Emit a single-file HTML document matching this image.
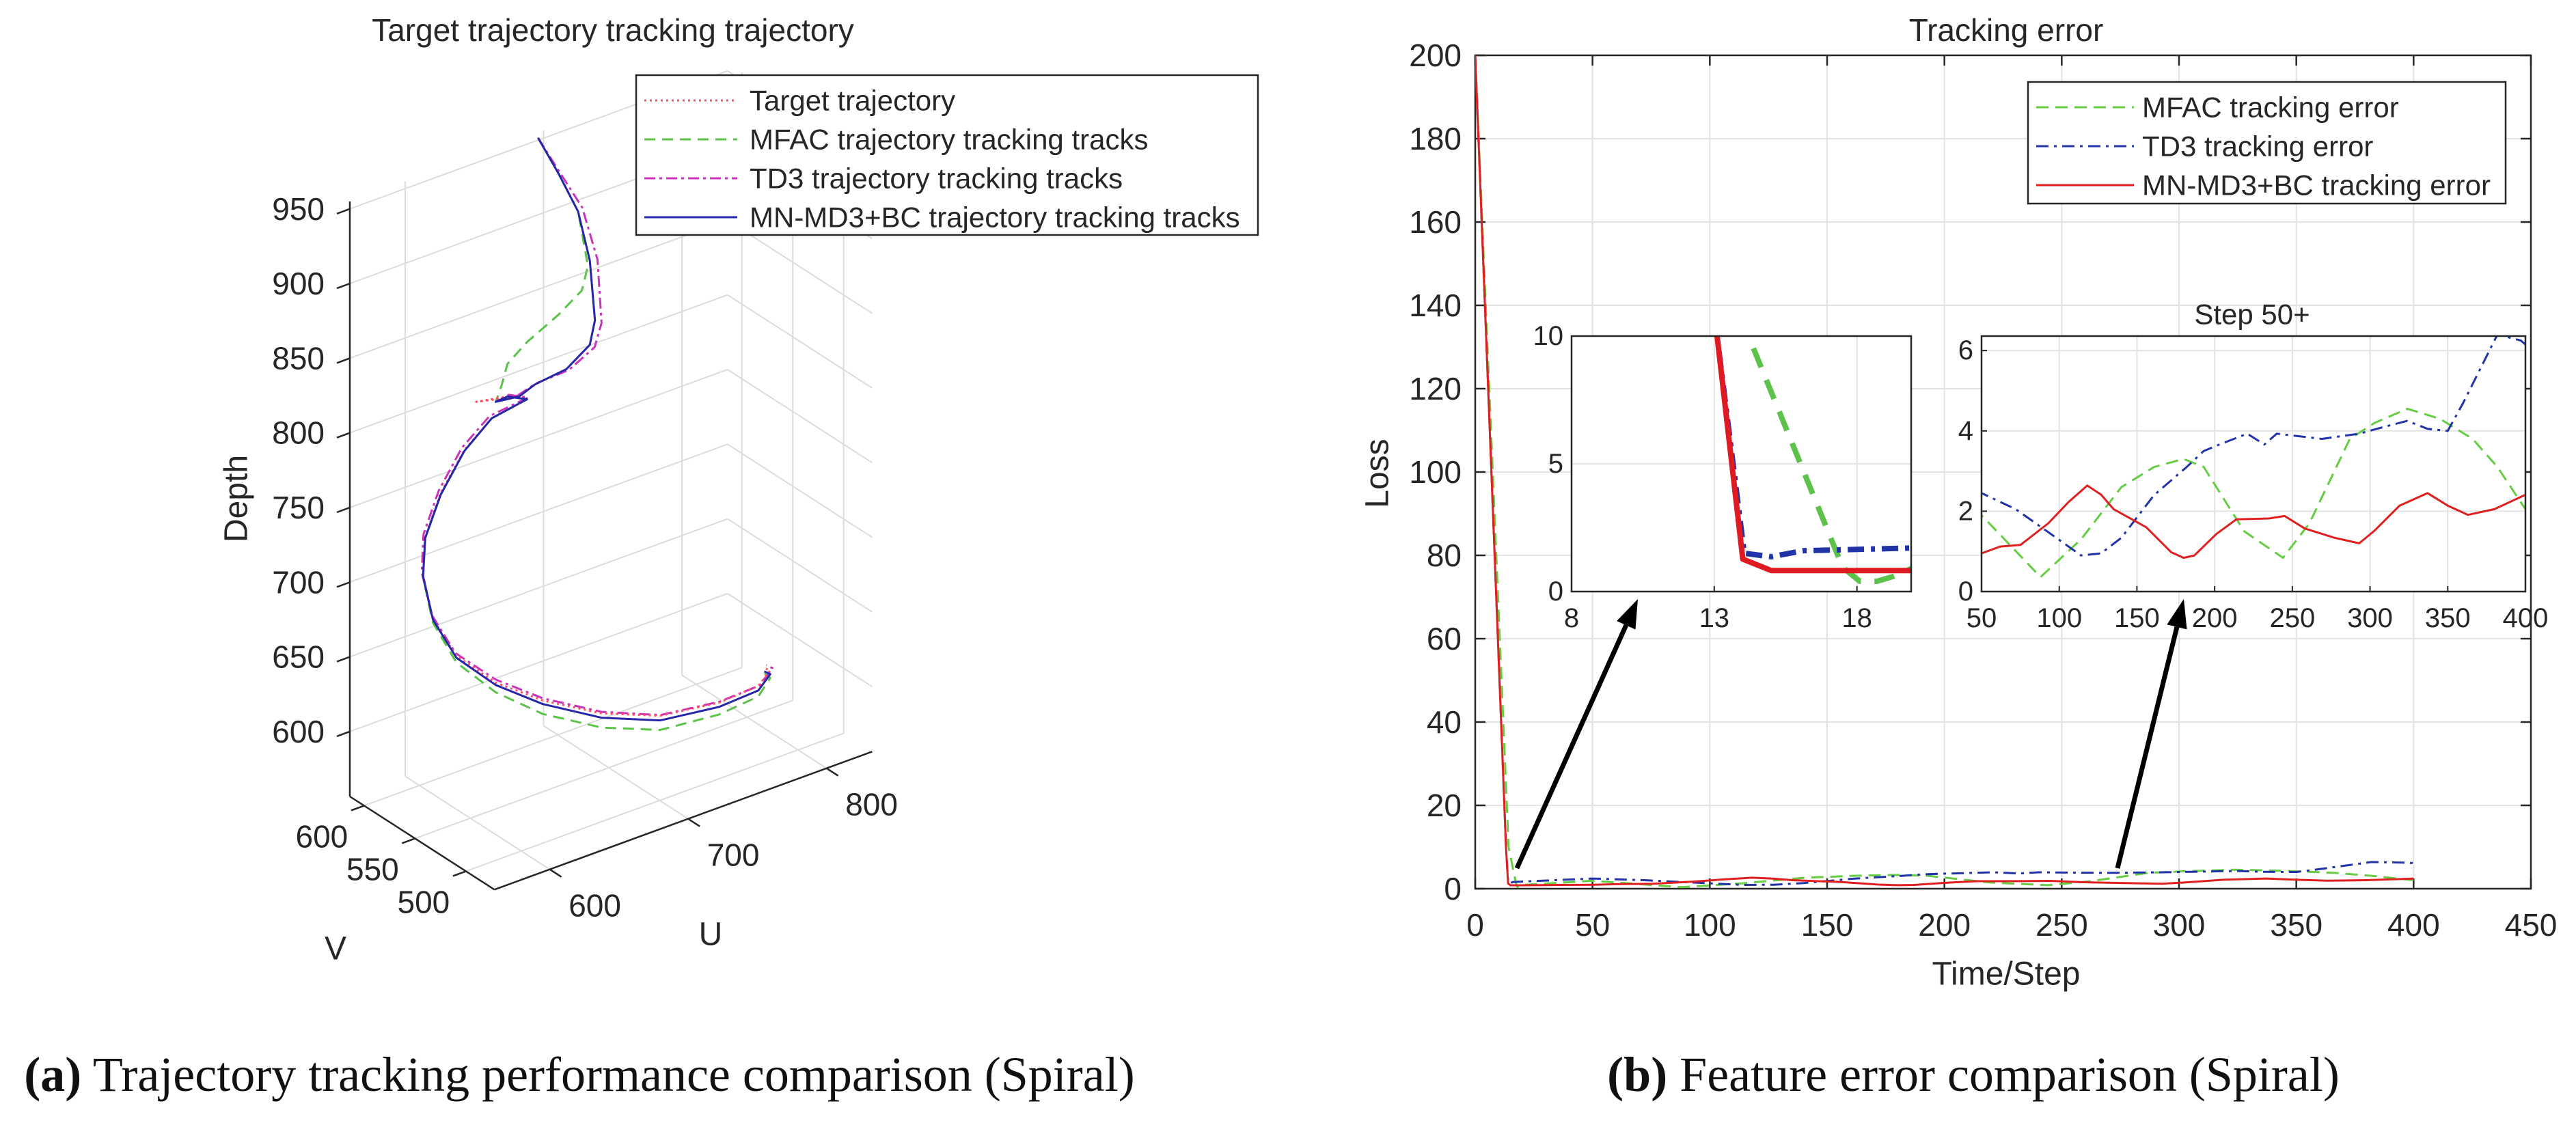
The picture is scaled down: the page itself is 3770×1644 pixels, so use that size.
<!DOCTYPE html>
<html><head><meta charset="utf-8">
<style>
html,body{margin:0;padding:0;background:#fff;}
svg{display:block;}
text{font-family:"Liberation Sans",sans-serif;fill:#262626;}
.cap{font-family:"Liberation Serif",serif;fill:#111;}
</style></head>
<body>
<svg id="fig" width="3770" height="1644" viewBox="0 0 3770 1644" xmlns="http://www.w3.org/2000/svg">
<defs>
<clipPath id="clipMain"><rect x="2159" y="81" width="1545" height="1220"/></clipPath>
<clipPath id="clipIn1"><rect x="2300" y="492" width="497" height="374"/></clipPath>
<clipPath id="clipIn2"><rect x="2900" y="492" width="796" height="374"/></clipPath>
</defs>
<g id="left"></g>
<g id="right"></g>
<text class="cap" x="848" y="1597" text-anchor="middle" font-size="72"><tspan font-weight="bold">(a)</tspan> Trajectory tracking performance comparison (Spiral)</text>
<text class="cap" x="2888" y="1597" text-anchor="middle" font-size="72"><tspan font-weight="bold">(b)</tspan> Feature error comparison (Spiral)</text>
</svg>
<script>
// ===== 3D trajectory data (U, V, Depth) =====
const depthTicks=[600,650,700,750,800,850,900,950];
const uTicks=[600,700,800];
const vTicks=[500,550,600];
const blueU=[641.6,656.3,670.5,679.0,682.7,679.0,662.0,639.3,628.0,611.0,619.5,633.6,608.1,588.3,571.3,560.0,558.5,565.6,582.6,611.0,645.0,687.5,730.0,772.5,800.8,809.4,805.1];
const blueD=[1002.4,973.7,943.4,907.7,866.4,851.2,840.6,838.1,833.9,836.0,836.7,830.1,826.0,810.8,787.4,762.1,737.1,705.5,674.2,646.4,622.1,598.6,582.4,577.1,578.5,586.5,589.8];
const blueV=[540,540,540,540,540,540,540,540,540,540,540,540,540,540,540,540,540,540,540,540,540,540,540,540,540,540,540];
const targetU=[641.6,656.3,670.5,679.0,682.7,679.0,662.0,639.3,628.0,596.8,619.5,633.6,608.1,588.3,571.3,560.0,558.5,565.6,582.6,611.0,645.0,687.5,730.0,772.5,800.8,809.4,805.1];
const targetD=[1002.4,973.7,943.4,907.7,866.4,851.2,840.6,838.1,833.9,840.8,836.7,830.1,826.0,811.5,788.5,763.0,737.5,706.0,675.5,648.0,624.5,601.5,585.5,580.0,581.5,589.0,592.0];
const td3U=[641.6,657.0,673.5,684.5,687.5,682.5,664.0,640.0,627.0,612.0,620.5,634.5,606.5,586.5,569.8,558.8,557.5,565.0,582.0,611.0,645.0,687.5,730.0,772.5,801.5,811.0,806.5];
const td3D=[1002.4,974.5,945.0,906.5,863.0,848.5,839.5,838.5,835.0,836.5,837.5,831.0,828.0,813.5,790.5,765.0,740.0,708.5,677.5,650.0,626.0,602.5,586.0,580.5,581.5,590.0,593.5];
const mfacU=[641.6,656.3,670.5,677.6,673.3,656.3,633.6,619.5,615.2,611.0,619.5,633.6,608.1,588.3,571.3,560.0,558.5,565.6,582.6,611.0,645.0,687.5,730.0,772.5,800.8,809.4,805.1];
const mfacD=[1002.4,973.7,943.4,904.6,889.6,879.0,868.4,858.6,845.5,836.0,836.7,830.1,826.0,810.8,787.4,762.1,736.0,703.5,671.0,641.5,615.5,592.0,576.0,572.0,574.5,584.0,588.5];

// ===== Tracking error data =====
const xTicks=[0,50,100,150,200,250,300,350,400,450];
const yTicks=[0,20,40,60,80,100,120,140,160,180,200];
const in1XTicks=[8,13,18];
const in1YTicks=[0,5,10];
const in2XTicks=[50,100,150,200,250,300,350,400];
const in2YTicks=[0,2,4,6];
const redX=[0,13.1,14,15,20,50,62,75,93,106,118,127,135,156,172,180,187,201,214,235,245,258,277,293,303,319,337,350,363,380,400];
const redY=[200,10,1.27,0.82,0.82,0.95,1.12,1.16,1.7,2.23,2.64,2.41,2.05,1.6,0.98,0.84,0.9,1.43,1.8,1.82,1.88,1.57,1.34,1.2,1.52,2.14,2.45,2.14,1.91,2.05,2.41];
const blueX=[0,13.1,14.05,15,16.1,19.8,50,72,98,114,127,140,161,182,193,203,221,232,240,269,293,309,324,337,350,360,382,397,400];
const blueY=[200,10,1.5,1.36,1.6,1.7,2.45,2.05,1.34,0.9,0.95,1.34,2.4,3.1,3.5,3.66,3.93,3.66,3.93,3.8,3.93,4.1,4.25,4.05,4.0,4.7,6.4,6.25,6.15];
const greenX=[0,14.2,17.5,18.1,18.7,19.3,19.9,50,88,114,140,161,180,193,219,244,261,287,303,324,345,366,382,400];
const greenY=[200,10,0.95,0.4,0.4,0.6,0.9,1.9,0.36,1.3,2.6,3.1,3.3,3.1,1.5,0.84,1.7,3.8,4.2,4.55,4.3,3.8,3.1,2.05];

const NS="http://www.w3.org/2000/svg";
function mk(parent,tag,attrs){const e=document.createElementNS(NS,tag);for(const k in attrs)e.setAttribute(k,attrs[k]);parent.appendChild(e);return e;}
function txt(parent,x,y,s,size,anchor){const t=mk(parent,'text',{x:x,y:y,'font-size':size,'text-anchor':anchor||'middle','dominant-baseline':'central'});t.textContent=s;return t;}
function pathD(xs,ys,fx,fy){let d='';for(let i=0;i<xs.length;i++){d+=(i?'L':'M')+fx(xs[i]).toFixed(1)+','+fy(ys[i]).toFixed(1);}return d;}

// ---------- LEFT 3D ----------
const L=document.getElementById('left');
const U0=560,U1=833,V0=472,V1=614,D0=556.5,D1=955;
function P(u,v,d){return [512+(u-U0)*2.025+(V1-v)*1.49, 1166-(u-U0)*0.74+(V1-v)*0.96-(d-D0)*2.186];}
function seg(g,a,b,attrs){const e=mk(g,'line',Object.assign({x1:a[0].toFixed(1),y1:a[1].toFixed(1),x2:b[0].toFixed(1),y2:b[1].toFixed(1)},attrs));return e;}
const grid3=mk(L,'g',{stroke:'#dcdcdc','stroke-width':2});


for(const u of uTicks){seg(grid3,P(u,V1,D0),P(u,V0,D0));seg(grid3,P(u,V1,D0),P(u,V1,D1));}
for(const v of vTicks){seg(grid3,P(U0,v,D0),P(U1,v,D0));seg(grid3,P(U1,v,D0),P(U1,v,D1));}
for(const d of depthTicks){seg(grid3,P(U0,V1,d),P(U1,V1,d));seg(grid3,P(U1,V1,d),P(U1,V0,d));}
const ax3=mk(L,'g',{stroke:'#262626','stroke-width':2.5});


seg(ax3,P(U0,V1,D0),P(U0,V1,D1));
seg(ax3,P(U0,V1,D0),P(U0,V0,D0));
seg(ax3,P(U0,V0,D0),P(U1,V0,D0));
for(const d of depthTicks){const p=P(U0,V1,d);seg(ax3,p,[p[0]-19,p[1]+7]);
  const t=txt(L,475,p[1],String(d),46,'end');
  
  }
for(const v of vTicks){const p=P(U0,v,D0);seg(ax3,p,[p[0]-19,p[1]+7]);
  const t=txt(L,p[0]-62,p[1]+45,String(v),46,'middle');
  
  }
for(const u of uTicks){const p=P(u,V0,D0);seg(ax3,p,[p[0]+17,p[1]+11]);
  const t=txt(L,p[0]+66,p[1]+53,String(u),46,'middle');
  
  }
let t3=txt(L,346,730,'Depth',48,'middle');t3.setAttribute('transform','rotate(-90 346 730)');


t3=txt(L,491,1389,'V',48,'middle');


t3=txt(L,1040,1368,'U',48,'middle');


t3=txt(L,897,44,'Target trajectory tracking trajectory',46,'middle');


function path3(us,vs,ds,attrs){let d='';for(let i=0;i<us.length;i++){const p=P(us[i],vs[i],ds[i]);d+=(i?'L':'M')+p[0].toFixed(1)+','+p[1].toFixed(1);}return mk(L,'path',Object.assign({d:d,fill:'none','stroke-linejoin':'round'},attrs));}
let s3=path3(mfacU,blueV,mfacD,{stroke:'#5cc24a','stroke-width':3,'stroke-dasharray':'16 10'});


s3=path3(td3U,blueV,td3D,{stroke:'#cc33bb','stroke-width':3,'stroke-dasharray':'16 6 4 6'});


s3=path3(targetU,blueV,targetD,{stroke:'#ff4f5f','stroke-width':3,'stroke-dasharray':'3 5'});


s3=path3(blueU,blueV,blueD,{stroke:'#2626a8','stroke-width':3});


// left legend
const lg=mk(L,'g',{});


mk(lg,'rect',{x:931,y:110,width:910,height:234,fill:'#fff',stroke:'#262626','stroke-width':2.5});
const lgItems=[['Target trajectory','#ff4f5f','3 5'],['MFAC trajectory tracking tracks','#5cc24a','16 10'],['TD3 trajectory tracking tracks','#cc33bb','16 6 4 6'],['MN-MD3+BC trajectory tracking tracks','#2626a8','none']];
const lgY=[147,204,261,318];
lgItems.forEach((it,i)=>{const e=mk(lg,'line',{x1:943,x2:1079,y1:lgY[i],y2:lgY[i],stroke:it[1],'stroke-width':3,'stroke-dasharray':it[2]});
  
  
  const t=txt(lg,1097,lgY[i],it[0],42,'start');
  
  });

// ---------- RIGHT ----------
const R=document.getElementById('right');
const AX0=2159,AX1=3704,AY0=1301,AY1=81;
const sx=x=>AX0+x/450*(AX1-AX0), sy=y=>AY0-y/200*(AY0-AY1);
const gm=mk(R,'g',{stroke:'#e3e3e3','stroke-width':2});


xTicks.forEach(x=>mk(gm,'line',{x1:sx(x),x2:sx(x),y1:AY1,y2:AY0}));
yTicks.forEach(y=>mk(gm,'line',{x1:AX0,x2:AX1,y1:sy(y),y2:sy(y)}));
const am=mk(R,'g',{stroke:'#262626','stroke-width':2.5,fill:'none'});


mk(am,'rect',{x:AX0,y:AY1,width:AX1-AX0,height:AY0-AY1});
xTicks.forEach(x=>{mk(am,'line',{x1:sx(x),x2:sx(x),y1:AY0,y2:AY0-15});mk(am,'line',{x1:sx(x),x2:sx(x),y1:AY1,y2:AY1+15});
  const t=txt(R,sx(x),1354,String(x),46);
  
  });
yTicks.forEach(y=>{mk(am,'line',{x1:AX0,x2:AX0+15,y1:sy(y),y2:sy(y)});mk(am,'line',{x1:AX1,x2:AX1-15,y1:sy(y),y2:sy(y)});
  const t=txt(R,2139,sy(y),String(y),46,'end');
  
  });
let tr=txt(R,2936,44,'Tracking error',46);


tr=txt(R,2936,1426,'Time/Step',48);


tr=txt(R,2016,693,'Loss',48);tr.setAttribute('transform','rotate(-90 2016 693)');


const mainLines=mk(R,'g',{'clip-path':'url(#clipMain)',fill:'none','stroke-linejoin':'round'});


let ln=mk(mainLines,'path',{d:pathD(greenX,greenY,sx,sy),stroke:'#66cc44','stroke-width':3,'stroke-dasharray':'18 10'});


ln=mk(mainLines,'path',{d:pathD(blueX,blueY,sx,sy),stroke:'#2233aa','stroke-width':3,'stroke-dasharray':'18 8 4 8'});


ln=mk(mainLines,'path',{d:pathD(redX,redY,sx,sy),stroke:'#e02020','stroke-width':3});


// legend
const rg=mk(R,'g',{});


mk(rg,'rect',{x:2968,y:120,width:699,height:178,fill:'#fff',stroke:'#262626','stroke-width':2.5});
const rgItems=[['MFAC tracking error','#66cc44','18 10'],['TD3 tracking error','#2233aa','18 8 4 8'],['MN-MD3+BC tracking error','#e02020','none']];
const rgY=[157,214,271];
rgItems.forEach((it,i)=>{const e=mk(rg,'line',{x1:2980,x2:3123,y1:rgY[i],y2:rgY[i],stroke:it[1],'stroke-width':3,'stroke-dasharray':it[2]});
  
  
  const t=txt(rg,3135,rgY[i],it[0],42,'start');
  
  });
// arrows
const arr=mk(R,'g',{stroke:'#000','stroke-width':7,fill:'#000'});


function arrow(x1,y1,x2,y2){const a=Math.atan2(y2-y1,x2-x1),h=42,w=15;
  const bx=x2-h*Math.cos(a),by=y2-h*Math.sin(a);
  mk(arr,'line',{x1:x1,y1:y1,x2:bx,y2:by});
  mk(arr,'polygon',{points:`${x2},${y2} ${bx+w*Math.sin(a)},${by-w*Math.cos(a)} ${bx-w*Math.sin(a)},${by+w*Math.cos(a)}`,stroke:'none'});}
arrow(2220,1271,2397,877);
arrow(3099,1271,3196,877);
// inset 1
const I1X0=2300,I1X1=2797,I1Y0=866,I1Y1=492;
const ix=x=>I1X0+(x-8)/11.9*(I1X1-I1X0), iy=y=>I1Y0-y/10*(I1Y0-I1Y1);
const in1=mk(R,'g',{});


mk(in1,'rect',{x:I1X0,y:I1Y1,width:I1X1-I1X0,height:I1Y0-I1Y1,fill:'#fff'});
in1XTicks.forEach(x=>{mk(in1,'line',{x1:ix(x),x2:ix(x),y1:I1Y1,y2:I1Y0,stroke:'#e3e3e3','stroke-width':2});
  mk(in1,'line',{x1:ix(x),x2:ix(x),y1:I1Y0,y2:I1Y0-8,stroke:'#262626','stroke-width':2});
  const t=txt(in1,ix(x),905,String(x),40);
  
  });
in1YTicks.forEach(y=>{mk(in1,'line',{x1:I1X0,x2:I1X1,y1:iy(y),y2:iy(y),stroke:'#e3e3e3','stroke-width':2});
  const t=txt(in1,2288,iy(y),String(y),40,'end');
  
  });
const in1L=mk(in1,'g',{'clip-path':'url(#clipIn1)',fill:'none','stroke-linejoin':'round'});
ln=mk(in1L,'path',{d:pathD(greenX,greenY,ix,iy),stroke:'#5cc24a','stroke-width':8,'stroke-dasharray':'30 20'});


ln=mk(in1L,'path',{d:pathD(blueX,blueY,ix,iy),stroke:'#2233aa','stroke-width':8,'stroke-dasharray':'24 10 6 10'});


ln=mk(in1L,'path',{d:pathD(redX,redY,ix,iy),stroke:'#e01a22','stroke-width':8});


mk(in1,'rect',{x:I1X0,y:I1Y1,width:I1X1-I1X0,height:I1Y0-I1Y1,fill:'none',stroke:'#262626','stroke-width':2.5});
// inset 2
const I2X0=2900,I2X1=3696,I2Y0=866,I2Y1=492;
const jx=x=>I2X0+(x-50)/350*(I2X1-I2X0), jy=y=>I2Y0-y/6.36*(I2Y0-I2Y1);
const in2=mk(R,'g',{});


mk(in2,'rect',{x:I2X0,y:I2Y1,width:I2X1-I2X0,height:I2Y0-I2Y1,fill:'#fff'});
in2XTicks.forEach(x=>{mk(in2,'line',{x1:jx(x),x2:jx(x),y1:I2Y1,y2:I2Y0,stroke:'#e3e3e3','stroke-width':2});
  mk(in2,'line',{x1:jx(x),x2:jx(x),y1:I2Y0,y2:I2Y0-8,stroke:'#262626','stroke-width':2});
  const t=txt(in2,jx(x),905,String(x),40);
  
  });
in2YTicks.forEach(y=>{mk(in2,'line',{x1:I2X0,x2:I2X1,y1:jy(y),y2:jy(y),stroke:'#e3e3e3','stroke-width':2});
  mk(in2,'line',{x1:I2X0,x2:I2X0+8,y1:jy(y),y2:jy(y),stroke:'#262626','stroke-width':2});
  const t=txt(in2,2888,jy(y),String(y),40,'end');
  
  });
const in2L=mk(in2,'g',{'clip-path':'url(#clipIn2)',fill:'none','stroke-linejoin':'round'});
ln=mk(in2L,'path',{d:pathD(greenX,greenY,jx,jy),stroke:'#66cc44','stroke-width':3,'stroke-dasharray':'18 10'});


ln=mk(in2L,'path',{d:pathD(blueX,blueY,jx,jy),stroke:'#2233aa','stroke-width':3,'stroke-dasharray':'18 8 4 8'});


ln=mk(in2L,'path',{d:pathD(redX,redY,jx,jy),stroke:'#e02020','stroke-width':3});


mk(in2,'rect',{x:I2X0,y:I2Y1,width:I2X1-I2X0,height:I2Y0-I2Y1,fill:'none',stroke:'#262626','stroke-width':2.5});
tr=txt(in2,3296,460,'Step 50+',42);


</script>
</body></html>
